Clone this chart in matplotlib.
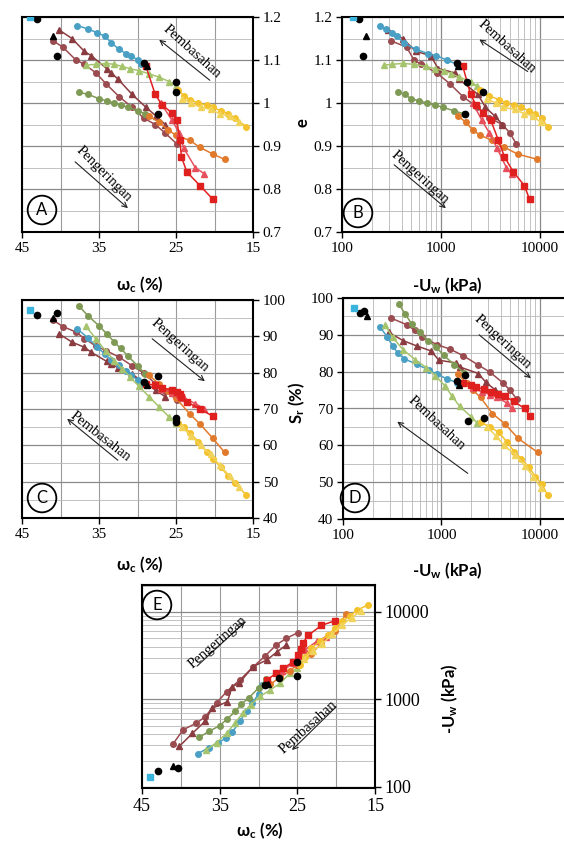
import matplotlib
matplotlib.use('Agg')
import matplotlib.pyplot as plt
from matplotlib.ticker import FixedLocator, NullFormatter, LogLocator, FuncFormatter
from matplotlib.patches import FancyArrowPatch

plt.rcParams['font.family'] = ['Liberation Serif', 'DejaVu Serif']
plt.rcParams['mathtext.default'] = 'regular'

# each test path: water content w (%), void ratio e, saturation Sr (%), suction -Uw (kPa)
mc_w = [41.0, 39.7, 38.0, 36.9, 35.4, 34.1, 32.4, 30.7, 29.2, 27.7, 26.4, 24.9]
mc_e = [1.145, 1.13, 1.10, 1.09, 1.07, 1.045, 1.015, 0.99, 0.965, 0.95, 0.93, 0.905]
mc_sr = [94.5, 92.7, 91.2, 89.4, 87.3, 86.1, 84.3, 81.9, 79.9, 77.0, 74.9, 72.6]
mc_uw = [310, 450, 535, 630, 910, 1230, 1670, 2340, 3100, 4200, 5000, 5800]

mt_w = [40.2, 38.5, 36.9, 36.0, 34.0, 33.4, 32.5, 30.7, 28.9, 27.6, 26.4]
mt_e = [1.17, 1.15, 1.12, 1.11, 1.08, 1.07, 1.055, 1.02, 0.99, 0.97, 0.95]
mt_sr = [90.7, 88.4, 87.0, 85.6, 83.1, 82.4, 81.3, 79.5, 77.1, 75.1, 73.4]
mt_uw = [290, 410, 560, 790, 940, 1400, 1530, 2370, 2830, 3500, 4200]

bl_w = [37.8, 36.4, 35.2, 34.2, 33.4, 32.4, 31.5, 30.8, 30.0, 29.5]
bl_e = [1.18, 1.172, 1.163, 1.155, 1.14, 1.125, 1.115, 1.11, 1.10, 1.09]
bl_sr = [92.0, 89.5, 87.0, 85.0, 83.5, 82.0, 80.5, 79.3, 78.0, 77.0]
bl_uw = [240, 280, 320, 360, 420, 560, 740, 900, 1150, 1450]

lg_w = [36.7, 35.4, 34.1, 33.0, 32.0, 31.0, 29.8, 28.5, 27.2, 25.9, 25.0]
lg_e = [1.088, 1.09, 1.092, 1.09, 1.085, 1.08, 1.075, 1.068, 1.06, 1.05, 1.04]
lg_sr = [92.8, 89.3, 85.9, 83.3, 81.1, 78.9, 76.2, 73.4, 70.6, 67.8, 66.1]
lg_uw = [265, 320, 410, 540, 700, 870, 1080, 1280, 1530, 2000, 2300]

og_w = [37.6, 36.4, 35.0, 34.0, 33.0, 32.2, 31.2, 30.0, 29.0]
og_e = [1.025, 1.02, 1.01, 1.005, 1.0, 0.995, 0.99, 0.982, 0.975]
og_sr = [98.3, 95.6, 92.9, 90.7, 88.4, 86.7, 84.5, 81.9, 79.7]
og_uw = [370, 430, 500, 600, 730, 880, 1050, 1350, 1700]

rd_w = [28.9, 27.7, 26.8, 25.5, 24.9, 24.5, 24.3, 23.6, 21.9, 20.2]
rd_e = [1.085, 1.02, 0.995, 0.977, 0.96, 0.915, 0.875, 0.84, 0.808, 0.776]
rd_sr = [77.0, 76.5, 75.8, 75.2, 74.6, 74.0, 73.3, 72.0, 70.0, 68.0]
rd_uw = [1670, 2000, 2270, 2700, 3200, 3800, 4400, 5400, 7000, 7900]

rt_w = [27.0, 25.5, 24.6, 24.0, 22.5, 21.3]
rt_e = [1.0, 0.96, 0.93, 0.895, 0.85, 0.835]
rt_sr = [75.5, 74.5, 73.8, 73.0, 71.5, 70.0]
rt_uw = [2100, 2600, 3100, 3700, 4600, 5200]

or_w = [28.5, 27.2, 26.0, 25.0, 23.2, 21.9, 20.2, 18.7]
or_e = [0.97, 0.955, 0.937, 0.925, 0.913, 0.897, 0.881, 0.869]
or_sr = [79.3, 76.9, 74.9, 73.0, 68.6, 65.9, 61.9, 58.1]
or_uw = [1480, 1800, 2100, 2500, 3300, 4400, 6000, 9500]

ye_w = [24.7, 24.0, 23.2, 22.1, 21.0, 20.2, 19.2, 18.2, 17.3, 15.9]
ye_e = [1.03, 1.017, 1.008, 1.0, 0.995, 0.99, 0.982, 0.975, 0.965, 0.945]
ye_sr = [66.2, 65.1, 63.5, 61.0, 58.3, 56.3, 54.0, 51.5, 49.5, 46.4]
ye_uw = [2500, 3080, 3840, 4600, 5500, 6500, 7800, 9000, 10500, 12000]

gt_w = [24.2, 23.0, 21.8, 20.5, 19.3, 18.0, 16.8]
gt_e = [1.01, 1.0, 0.99, 0.985, 0.975, 0.97, 0.955]
gt_sr = [65.0, 62.5, 60.0, 57.5, 54.5, 51.5, 48.5]
gt_uw = [2900, 3600, 4300, 5600, 7000, 8600, 10200]

# initial / turning points
bk_w = [43.0, 41.0, 40.4, 29.2, 28.8, 27.4, 25.0, 25.0]
bk_e = [1.195, 1.155, 1.11, 1.093, 1.085, 0.975, 1.05, 1.025]
bk_sr = [96.0, 95.0, 96.5, 77.5, 76.5, 79.0, 66.5, 67.5]
bk_uw = [150, 175, 165, 1450, 1500, 1750, 1850, 2700]
bk_mk = ['o', '^', 'o', 'o', '^', 'o', 'o', 'o']

cy_w = [44.0]
cy_e = [1.20]
cy_sr = [97.3]
cy_uw = [130]

series = [
    (mc_w, mc_e, mc_sr, mc_uw, '#9a4c50', 'o'),
    (mt_w, mt_e, mt_sr, mt_uw, '#8a3c40', '^'),
    (bl_w, bl_e, bl_sr, bl_uw, '#4aa0c4', 'o'),
    (lg_w, lg_e, lg_sr, lg_uw, '#a6c46e', '^'),
    (og_w, og_e, og_sr, og_uw, '#7f9a55', 'o'),
    (or_w, or_e, or_sr, or_uw, '#e27a2c', 'o'),
    (rt_w, rt_e, rt_sr, rt_uw, '#e6505c', '^'),
    (rd_w, rd_e, rd_sr, rd_uw, '#e0201e', 's'),
    (ye_w, ye_e, ye_sr, ye_uw, '#f4c22c', 'o'),
    (gt_w, gt_e, gt_sr, gt_uw, '#f2d35a', '^'),
]

W, H = 564.0, 843.0
fig = plt.figure(figsize=(5.64, 8.43), dpi=100)


def make_ax(left, top, right, bottom):
    return fig.add_axes([left / W, 1 - bottom / H, (right - left) / W, (bottom - top) / H])


def fp(x, y):
    return (x / W, 1 - y / H)


def draw(ax, xi, yi):
    for s in series:
        ax.plot(s[xi], s[yi], color=s[4], marker=s[5], ms=4, lw=1.1, zorder=3)
    pts = list(zip(bk_w, bk_e, bk_sr, bk_uw))
    for p, m in zip(pts, bk_mk):
        ax.plot(p[xi], p[yi], color='black', marker=m, ms=4.5, ls='none', zorder=4)
    cy = (cy_w, cy_e, cy_sr, cy_uw)
    ax.plot(cy[xi], cy[yi], color='#3ab4dc', marker='s', ms=4.5, ls='none', zorder=4)


def style(ax, size=11):
    for sp in ax.spines.values():
        sp.set_linewidth(1.5)
    ax.tick_params(which='major', direction='out', length=4, width=1, labelsize=size, pad=3)
    ax.tick_params(which='minor', length=0)
    ax.set_axisbelow(True)


def w_xaxis(ax):
    ax.set_xlim(45, 15)
    ax.xaxis.set_major_locator(FixedLocator([45, 35, 25, 15]))
    ax.xaxis.set_minor_locator(FixedLocator([40, 30, 20]))
    ax.xaxis.set_minor_formatter(NullFormatter())
    ax.xaxis.grid(True, which='both', color='#9a9a9a', lw=0.8)


def log_axis(axis):
    axis.set_major_locator(FixedLocator([100, 1000, 10000]))
    axis.set_major_formatter(FuncFormatter(lambda v, p: '%d' % v))
    axis.set_minor_locator(LogLocator(base=10, subs=range(2, 10)))
    axis.set_minor_formatter(NullFormatter())
    axis.grid(True, which='major', color='#8a8a8a', lw=0.9)
    axis.grid(True, which='minor', color='#b8b8b8', lw=0.6)


def e_yaxis(ax):
    ax.set_ylim(0.7, 1.2)
    ax.yaxis.set_major_locator(FixedLocator([0.7, 0.8, 0.9, 1.0, 1.1, 1.2]))
    ax.yaxis.set_major_formatter(FuncFormatter(lambda v, p: '%g' % v))
    ax.yaxis.set_minor_locator(FixedLocator([0.75, 0.85, 0.95, 1.05, 1.15]))
    ax.yaxis.grid(True, which='major', color='#8a8a8a', lw=0.9)
    ax.yaxis.grid(True, which='minor', color='#b8b8b8', lw=0.6)


def sr_yaxis(ax):
    ax.set_ylim(40, 100)
    ax.yaxis.set_major_locator(FixedLocator([40, 50, 60, 70, 80, 90, 100]))
    ax.yaxis.set_minor_locator(FixedLocator([45, 55, 65, 75, 85, 95]))
    ax.yaxis.grid(True, which='major', color='#8a8a8a', lw=0.9)
    ax.yaxis.grid(True, which='minor', color='#b8b8b8', lw=0.6)


axA = make_ax(22, 17, 253, 232)
axB = make_ax(342, 17, 582, 232)
axC = make_ax(22, 300, 253, 518)
axD = make_ax(343, 298, 582, 519)
axE = make_ax(142, 585, 375, 788)

# A: w - e
draw(axA, 0, 1)
w_xaxis(axA)
e_yaxis(axA)
axA.yaxis.tick_right()

# B: suction - e
draw(axB, 3, 1)
axB.set_xscale('log')
axB.set_xlim(100, 26800)
log_axis(axB.xaxis)
e_yaxis(axB)

# C: w - Sr
draw(axC, 0, 2)
w_xaxis(axC)
sr_yaxis(axC)
axC.yaxis.tick_right()

# D: suction - Sr
draw(axD, 3, 2)
axD.set_xscale('log')
axD.set_xlim(100, 26800)
log_axis(axD.xaxis)
sr_yaxis(axD)

# E: w - suction
draw(axE, 0, 3)
w_xaxis(axE)
axE.set_yscale('log')
axE.set_ylim(97, 20300)
log_axis(axE.yaxis)
axE.yaxis.tick_right()

for ax in (axA, axB, axC, axD):
    style(ax)
style(axE, 13)

# axis titles
lab = dict(family=['Lato', 'DejaVu Sans'], fontsize=12, fontweight='bold', ha='center', va='center')
wlab = 'ω$_c$ (%)'
ulab = '-U$_w$ (kPa)'
fig.text(*fp(140, 285), wlab, **lab)
fig.text(*fp(447, 286), ulab, **lab)
fig.text(*fp(140, 565), wlab, **lab)
fig.text(*fp(447, 571), ulab, **lab)
fig.text(*fp(260, 831), wlab, **lab)
fig.text(*fp(302, 123), 'e', rotation=90, **lab)
fig.text(*fp(297, 403), 'S$_r$ (%)', rotation=90, **lab)
fig.text(*fp(450, 699), ulab, rotation=90, **lab)

# panel letters
for letter, x, y in [('A', 42, 210), ('B', 358, 213), ('C', 42, 498), ('D', 355, 498), ('E', 157, 605)]:
    fig.text(*fp(x, y), letter, family=['Lato', 'DejaVu Sans'], fontsize=12, ha='center', va='center',
             bbox=dict(boxstyle='circle,pad=0.38', fc='none', ec='black', lw=1.3))

# drying / wetting directions
notes = [
    ('Pembasahan', 192, 52, -42, (212, 82), (157, 38)),
    ('Pengeringan', 104, 174, -45, (73, 160), (130, 210)),
    ('Pembasahan', 507, 47, -42, (530, 73), (477, 38)),
    ('Pengeringan', 420, 177, -42, (392, 163), (448, 210)),
    ('Pengeringan', 180, 345, -42, (150, 337), (207, 383)),
    ('Pembasahan', 100, 437, -38, (120, 462), (65, 417)),
    ('Pengeringan', 503, 342, -43, (477, 333), (533, 380)),
    ('Pembasahan', 437, 423, -43, (470, 475), (395, 420)),
    ('Pengeringan', 218, 642, 41, (195, 668), (247, 620)),
    ('Pembasahan', 308, 727, 42, (338, 705), (290, 752)),
]
for txt, x, y, rot, tail, head in notes:
    fig.text(*fp(x, y), txt, fontsize=10.5, rotation=rot, ha='center', va='center',
             rotation_mode='anchor')
    fig.add_artist(FancyArrowPatch(fp(*tail), fp(*head), transform=fig.transFigure,
                                   arrowstyle='->', mutation_scale=9, lw=0.8, color='#222222'))

fig.savefig('out.png', dpi=100, facecolor='white')
